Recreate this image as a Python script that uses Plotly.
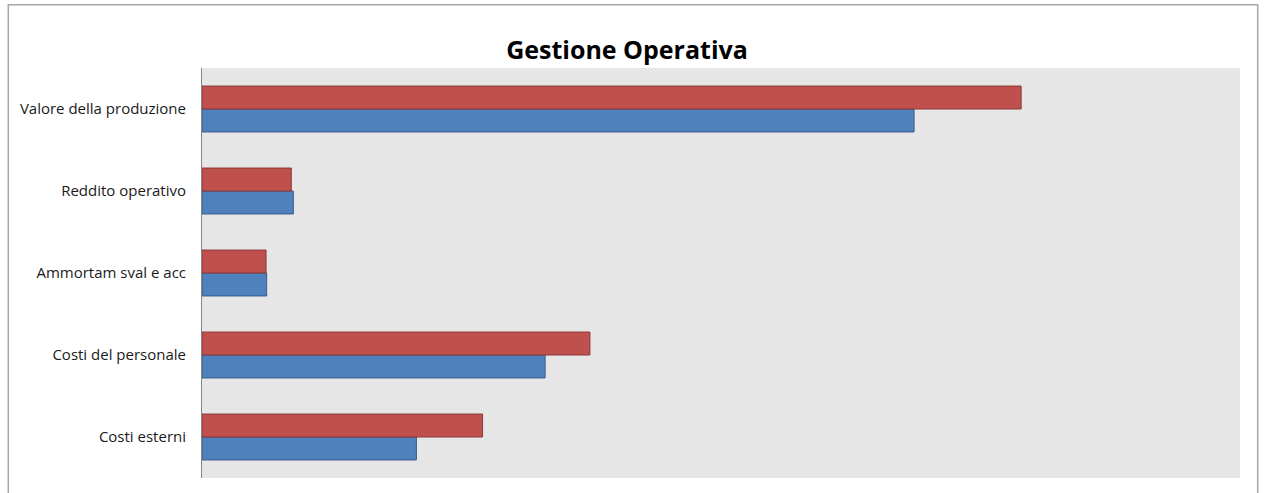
import plotly.graph_objects as go

categories = ["Costi esterni", "Costi del personale", "Ammortam sval e acc",
              "Reddito operativo", "Valore della produzione"]
serie_blu = [723, 1157, 218, 308, 2401]
serie_rossa = [946, 1308, 216, 301, 2762]
x_max = 3500

W, H = 1266, 493
L, R, T, B = 202, 26, 68, 15
pw, ph = W - L - R, H - T - B

fig = go.Figure()
fig.add_trace(go.Bar(y=categories, x=serie_blu, orientation="h", name="Anno 1",
                     marker=dict(color="#4F81BD", line=dict(color="#385D8A", width=1))))
fig.add_trace(go.Bar(y=categories, x=serie_rossa, orientation="h", name="Anno 2",
                     marker=dict(color="#C0504D", line=dict(color="#8C3836", width=1))))

def px_x(x):
    return (x - L) / pw

def px_y(y):
    return (H - B - y) / ph

fig.add_shape(type="rect", xref="paper", yref="paper",
              x0=px_x(8.3), x1=px_x(1257.7), y0=px_y(4.7), y1=px_y(520),
              line=dict(color="#A6A6A6", width=1.5), fillcolor="rgba(0,0,0,0)", layer="above")

fig.update_layout(
    width=W, height=H,
    margin=dict(l=L, r=R, t=T, b=B, pad=0),
    paper_bgcolor="white", plot_bgcolor="#E6E6E6",
    barmode="group", bargap=0.44, bargroupgap=0,
    showlegend=False,
    title=dict(text="<b>Gestione Operativa</b>", x=627 / W, xanchor="center",
               y=1 - 50 / H, yanchor="middle",
               font=dict(family="Open Sans", size=25, color="black")),
    font=dict(family="Open Sans", size=15, color="#000000"),
    xaxis=dict(range=[0, x_max], showgrid=False, zeroline=False, showticklabels=False,
               showline=False, ticks=""),
    yaxis=dict(showgrid=False, zeroline=False, showline=True, linecolor="#868686",
               linewidth=1, ticks="", ticklabelstandoff=12,
               tickfont=dict(family="Open Sans", size=15, color="#1a1a1a")),
)

fig.write_html("out.html", config={"displayModeBar": False},
               post_script="document.body.style.margin='0';document.body.style.overflow='hidden';")
